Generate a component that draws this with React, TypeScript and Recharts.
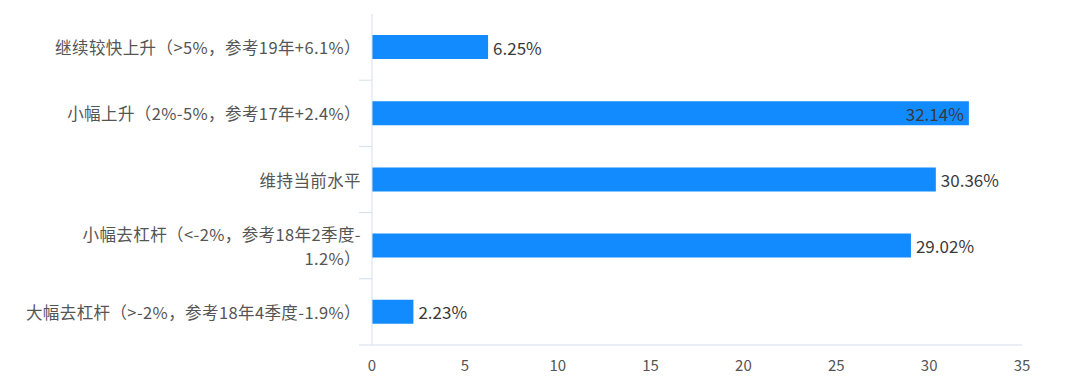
import { BarChart, Bar, XAxis, YAxis, LabelList } from "recharts";

const categories = [
  "继续较快上升（>5%，参考19年+6.1%）",
  "小幅上升（2%-5%，参考17年+2.4%）",
  "维持当前水平",
  "小幅去杠杆（<-2%，参考18年2季度-\n1.2%）",
  "大幅去杠杆（>-2%，参考18年4季度-1.9%）",
];
const shares = [6.25, 32.14, 30.36, 29.02, 2.23];
const xTicks = [0, 5, 10, 15, 20, 25, 30, 35];

const data = categories.map((name, i) => ({ name, value: shares[i] }));

const W = 1050;
const H = 381;
const TOP = 6;
const X_AXIS_H = 44;
const Y_AXIS_W = 364;
const BAND = (H - TOP - X_AXIS_H) / categories.length;
const FONT = '"Noto Sans CJK SC", "Noto Sans", sans-serif';
const AXIS_COLOR = "#d6dfeb";

function CategoryTick(props: any) {
  const { y, payload } = props;
  const lines = String(payload.value).split("\n");
  const lh = 24;
  const startY = y - ((lines.length - 1) * lh) / 2;
  return (
    <g>
      <line
        x1={Y_AXIS_W - 13}
        x2={Y_AXIS_W}
        y1={y + BAND / 2}
        y2={y + BAND / 2}
        stroke={AXIS_COLOR}
      />
      {lines.map((l, i) => (
        <text
          key={i}
          x={Y_AXIS_W - 11}
          y={startY + i * lh}
          textAnchor="end"
          dominantBaseline="central"
          fontSize={16.5}
          letterSpacing={0.4}
          fill="#555"
          fontFamily={FONT}
        >
          {l}
        </text>
      ))}
    </g>
  );
}

function ValueLabel(props: any) {
  const { x, y, width, height, value } = props;
  const inside = value > 31;
  return (
    <text
      x={inside ? x + width - 5 : x + width + 5}
      y={y + height / 2}
      textAnchor={inside ? "end" : "start"}
      dominantBaseline="central"
      fontSize={17}
      fill="#3a3a3a"
      fontFamily={FONT}
    >
      {`${Number(value).toFixed(2)}%`}
    </text>
  );
}

export default function App() {
  return (
    <div style={{ width: W, height: H, background: "#fff" }}>
      <BarChart
        width={W}
        height={H}
        data={data}
        layout="vertical"
        margin={{ top: TOP, right: 36, left: 0, bottom: 0 }}
      >
        <XAxis
          type="number"
          domain={[0, 35]}
          ticks={xTicks}
          height={X_AXIS_H}
          tickLine={false}
          tickMargin={9}
          axisLine={{ stroke: AXIS_COLOR }}
          tick={{ fontSize: 15, fill: "#555", fontFamily: FONT }}
        />
        <YAxis
          type="category"
          dataKey="name"
          width={Y_AXIS_W}
          tickLine={false}
          axisLine={{ stroke: AXIS_COLOR }}
          tick={<CategoryTick />}
          interval={0}
        />
        <Bar dataKey="value" fill="#118bff" barSize={24} isAnimationActive={false}>
          <LabelList dataKey="value" content={<ValueLabel />} />
        </Bar>
      </BarChart>
    </div>
  );
}
